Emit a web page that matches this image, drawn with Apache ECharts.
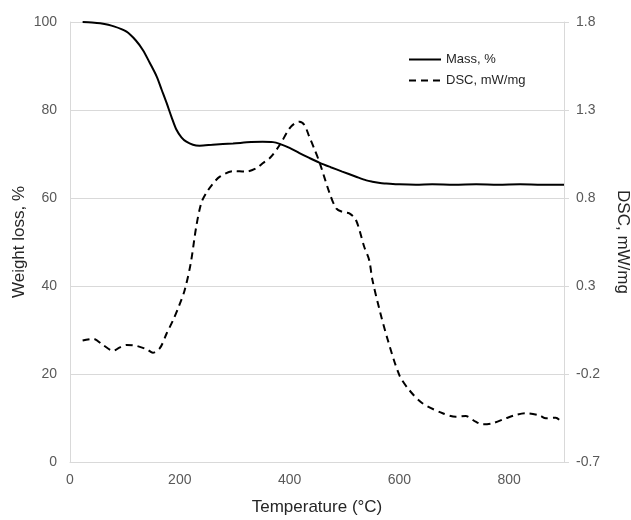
<!DOCTYPE html>
<html>
<head>
<meta charset="utf-8">
<script src="https://cdn.jsdelivr.net/npm/echarts@6/dist/echarts.min.js"></script>
<style>
html,body{margin:0;padding:0;background:#fff;}
#chart{width:631px;height:520px;}
</style>
</head>
<body>
<div id="chart"></div>
<script>
var xTicks = [0, 200, 400, 600, 800];
var leftTicks = [0, 20, 40, 60, 80, 100];
var rightTicks = [-0.7, -0.2, 0.3, 0.8, 1.3, 1.8];

var massT = [23, 40, 55, 80, 103, 120, 133, 145, 158, 167, 176, 185, 194, 203, 212, 224, 236, 260, 297, 330, 351, 370, 382, 400, 418, 436, 455, 475, 496, 520, 540, 551, 565, 576, 600, 630, 660, 700, 740, 780, 820, 860, 900];
var massV = [100, 99.9, 99.7, 99.0, 97.8, 95.8, 93.6, 90.8, 87.6, 84.6, 81.6, 78.4, 75.5, 73.8, 72.8, 72.1, 71.9, 72.1, 72.4, 72.7, 72.8, 72.7, 72.3, 71.4, 70.2, 69.1, 68.0, 67.0, 66.0, 64.9, 64.0, 63.7, 63.4, 63.3, 63.1, 63.0, 63.1, 63.0, 63.1, 63.0, 63.1, 63.0, 63.0];

var dscT = [23, 42, 60, 79, 90, 103, 121, 140, 151, 164, 176, 188, 199, 209, 220, 230, 239, 248, 260, 273, 297, 321, 340, 351, 365, 382, 400, 410, 418, 427, 436, 445, 455, 473, 485, 497, 509, 521, 536, 545, 551, 564, 579, 600, 618, 642, 679, 703, 721, 739, 751, 770, 794, 812, 830, 855, 867, 885, 897];
var dscV = [-0.01, 0.0, -0.035, -0.068, -0.05, -0.035, -0.04, -0.06, -0.079, -0.052, 0.03, 0.107, 0.19, 0.277, 0.43, 0.637, 0.77, 0.827, 0.88, 0.921, 0.953, 0.95, 0.97, 0.997, 1.03, 1.101, 1.196, 1.225, 1.233, 1.215, 1.148, 1.08, 0.999, 0.827, 0.741, 0.72, 0.713, 0.675, 0.523, 0.448, 0.334, 0.164, -0.007, -0.206, -0.291, -0.366, -0.423, -0.443, -0.439, -0.471, -0.486, -0.48, -0.452, -0.433, -0.423, -0.435, -0.452, -0.448, -0.48];

function zip(a, b) { return a.map(function (v, i) { return [v, b[i]]; }); }

var font = 'Liberation Sans, Arial, sans-serif';
var chart = echarts.init(document.getElementById('chart'), null, {renderer: 'canvas'});
chart.setOption({
  animation: false,
  backgroundColor: '#fff',
  grid: {left: 70, right: 67, top: 22, bottom: 58, containLabel: false, outerBoundsMode: 'none'},
  legend: {
    orient: 'vertical', left: 403, top: 48, itemWidth: 32, itemHeight: 10, itemGap: 8,
    itemStyle: {opacity: 0},
    textStyle: {fontFamily: font, fontSize: 13, color: '#262626'},
    data: ['Mass, %', 'DSC, mW/mg']
  },
  xAxis: {
    type: 'value', min: 0, max: 900, interval: 200,
    name: 'Temperature (°C)', nameLocation: 'middle', nameGap: 37, nameMoveOverlap: false,
    nameTextStyle: {fontFamily: font, fontSize: 17, color: '#262626'},
    axisLine: {show: true, lineStyle: {color: '#d9d9d9', width: 1}},
    axisTick: {show: false},
    splitLine: {show: false},
    axisLabel: {fontFamily: font, fontSize: 14, color: '#595959', margin: 11, showMaxLabel: false,
      formatter: function (v) { return xTicks.indexOf(v) >= 0 ? String(v) : ''; }}
  },
  yAxis: [{
    type: 'value', min: 0, max: 100, interval: 20, position: 'left',
    name: 'Weight loss, %', nameLocation: 'middle', nameGap: 42, nameMoveOverlap: false,
    nameTextStyle: {fontFamily: font, fontSize: 17, color: '#262626'},
    axisLine: {show: true, lineStyle: {color: '#d9d9d9', width: 1}},
    axisTick: {show: false},
    splitLine: {show: true, lineStyle: {color: '#d9d9d9', width: 1}},
    axisLabel: {fontFamily: font, fontSize: 14, color: '#595959', margin: 13,
      formatter: function (v) { return leftTicks.indexOf(v) >= 0 ? String(v) : ''; }}
  }, {
    type: 'value', min: -0.7, max: 1.8, interval: 0.5, position: 'right',
    name: 'DSC, mW/mg', nameLocation: 'middle', nameGap: 50, nameRotate: -90, nameMoveOverlap: false,
    nameTextStyle: {fontFamily: font, fontSize: 17, color: '#262626'},
    axisLine: {show: true, lineStyle: {color: '#d9d9d9', width: 1}},
    axisTick: {show: true, length: 5, lineStyle: {color: '#d9d9d9'}},
    splitLine: {show: false},
    axisLabel: {fontFamily: font, fontSize: 14, color: '#595959', margin: 12,
      formatter: function (v) { return (Math.round(v * 10) / 10).toFixed(1); }}
  }],
  series: [{
    name: 'Mass, %', type: 'line', yAxisIndex: 0, data: zip(massT, massV),
    symbol: 'none', smooth: 0.3,
    lineStyle: {color: '#000', width: 2}, itemStyle: {color: '#000'}
  }, {
    name: 'DSC, mW/mg', type: 'line', yAxisIndex: 1, data: zip(dscT, dscV),
    symbol: 'none', smooth: 0.3,
    lineStyle: {color: '#000', width: 2, type: [7, 5]}, itemStyle: {color: '#000'}
  }]
});
</script>
</body>
</html>
